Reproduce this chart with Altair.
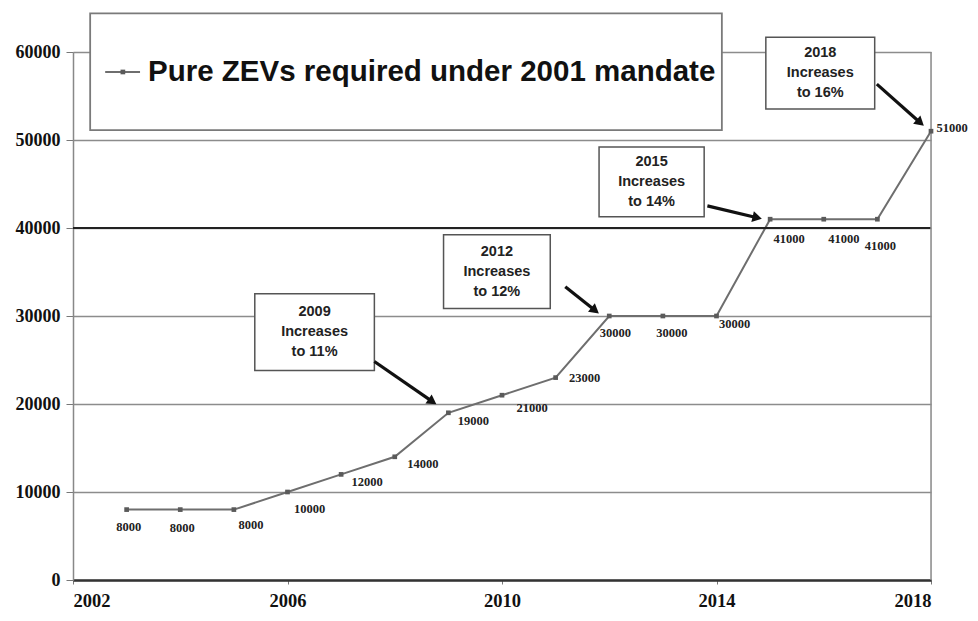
import math
import altair as alt
import pandas as pd

# ---------------- data ----------------
years = list(range(2003, 2019))
zevs = [8000, 8000, 8000, 10000, 12000, 14000, 19000, 21000, 23000,
        30000, 30000, 30000, 41000, 41000, 41000, 51000]
x_ticks = [2002, 2006, 2010, 2014, 2018]
y_ticks = [0, 10000, 20000, 30000, 40000, 50000, 60000]
legend_label = "Pure ZEVs required under 2001 mandate"

ann_text = ["2009\nIncreases\nto 11%", "2012\nIncreases\nto 12%",
            "2015\nIncreases\nto 14%", "2018\nIncreases\nto 16%"]
# annotation boxes (data units: x from, x to, y from, y to)
ann_box = [(2005.39, 2007.62, 23810, 32540),
           (2008.91, 2010.90, 30840, 39230),
           (2011.81, 2013.77, 41270, 49200),
           (2014.92, 2016.95, 53510, 61680)]
# arrows (data units: start x, start y, end x, end y)
ann_arrow = [(2007.62, 24830, 2008.78, 19950),
             (2011.18, 33330, 2011.81, 30270),
             (2013.83, 42520, 2014.85, 41040),
             (2016.99, 56350, 2017.87, 51590)]

# ---------------- layout ----------------
W, H = 858, 528
XMIN, XMAX, YMIN, YMAX = 2002, 2018, 0, 60000
px_x = W / (XMAX - XMIN)
px_y = H / (YMAX - YMIN)

# label pixel offsets per point (style)
lab_off = {2003: (2, 17), 2004: (2, 18), 2005: (17, 15), 2006: (22, 17),
           2007: (26, 8), 2008: (28, 7), 2009: (25, 8), 2010: (30, 13),
           2011: (29, 0), 2012: (6, 17), 2013: (9, 17), 2014: (18, 8),
           2015: (19, 20), 2016: (20, 20), 2017: (3, 27), 2018: (21, -3)}

df = pd.DataFrame({"year": years, "zev": zevs})
df["label"] = df["zev"].astype(str)
df["lx"] = [y + lab_off[y][0] / px_x for y in years]
df["ly"] = [v - lab_off[y][1] / px_y for y, v in zip(years, zevs)]

xs = alt.Scale(domain=[XMIN, XMAX], nice=False, zero=False)
ys = alt.Scale(domain=[YMIN, YMAX], nice=False)

serif = "Liberation Serif"
sans = "Liberation Sans"
gray = "#6e6e6e"

base = alt.Chart(df)

line = base.mark_line(color=gray, strokeWidth=2).encode(
    x=alt.X("year:Q", scale=xs,
            axis=alt.Axis(values=x_ticks, format="d", title=None, grid=False,
                          labelFont=serif, labelFontWeight="bold", labelFontSize=18.5,
                          labelColor="#111", labelPadding=7, tickSize=4,
                          tickColor="#777", domainColor="#333", domainWidth=2.5)),
    y=alt.Y("zev:Q", scale=ys,
            axis=alt.Axis(values=y_ticks, format="d", title=None, grid=True,
                          gridColor="#8c8c8c", gridWidth=1.4,
                          labelFont=serif, labelFontWeight="bold", labelFontSize=18,
                          labelColor="#111", labelPadding=6, tickSize=7,
                          tickColor="#777", domainColor="#888", domainWidth=1.5)),
)
pts = base.mark_point(shape="square", filled=True, size=22, color="#5a5a5a", opacity=1).encode(
    x=alt.X("year:Q", scale=xs), y=alt.Y("zev:Q", scale=ys))
labels = base.mark_text(font=serif, fontWeight="bold", fontSize=12.5, color="#222",
                        align="center", baseline="middle").encode(
    x=alt.X("lx:Q", scale=xs), y=alt.Y("ly:Q", scale=ys), text="label:N")

# dark gridline at 40000 and right border
frame_df = pd.DataFrame({"y": [40000]})
rule40 = alt.Chart(frame_df).mark_rule(color="#222", strokeWidth=2).encode(
    y=alt.Y("y:Q", scale=ys))
border_df = pd.DataFrame({"x": [XMAX], "y": [YMIN], "y2": [YMAX]})
border = alt.Chart(border_df).mark_rule(color="#8c8c8c", strokeWidth=1.5).encode(
    x=alt.X("x:Q", scale=xs), y=alt.Y("y:Q", scale=ys), y2="y2:Q")

# legend box (drawn manually)
leg_y = 57730
leg_box_df = pd.DataFrame({"x": [2002.32], "x2": [2014.10], "y": [51130], "y2": [64400]})
leg_box = alt.Chart(leg_box_df).mark_rect(fill="white", stroke="#7a7a7a", strokeWidth=1.8).encode(
    x=alt.X("x:Q", scale=xs), x2="x2:Q", y=alt.Y("y:Q", scale=ys), y2="y2:Q")
leg_line_df = pd.DataFrame({"x": [2002.60], "x2": [2003.25], "y": [leg_y]})
leg_line = alt.Chart(leg_line_df).mark_rule(color=gray, strokeWidth=2).encode(
    x=alt.X("x:Q", scale=xs), x2="x2:Q", y=alt.Y("y:Q", scale=ys))
leg_pt_df = pd.DataFrame({"x": [2002.93], "y": [leg_y]})
leg_pt = alt.Chart(leg_pt_df).mark_point(shape="square", filled=True, size=22, color="#5a5a5a", opacity=1).encode(
    x=alt.X("x:Q", scale=xs), y=alt.Y("y:Q", scale=ys))
leg_txt_df = pd.DataFrame({"x": [2003.40], "y": [leg_y], "t": [legend_label]})
leg_txt = alt.Chart(leg_txt_df).mark_text(font=sans, fontWeight="bold", fontSize=29.5,
                                          color="#111", align="left", baseline="middle").encode(
    x=alt.X("x:Q", scale=xs), y=alt.Y("y:Q", scale=ys), text="t:N")

# annotation boxes
box_df = pd.DataFrame({
    "x": [b[0] for b in ann_box], "x2": [b[1] for b in ann_box],
    "y": [b[2] for b in ann_box], "y2": [b[3] for b in ann_box],
    "cx": [(b[0] + b[1]) / 2 for b in ann_box],
    "cy": [(b[2] + b[3]) / 2 for b in ann_box],
    "t": ann_text,
})
boxes = alt.Chart(box_df).mark_rect(fill="white", stroke="#555", strokeWidth=1.5).encode(
    x=alt.X("x:Q", scale=xs), x2="x2:Q", y=alt.Y("y:Q", scale=ys), y2="y2:Q")
box_txt = alt.Chart(box_df).mark_text(font=sans, fontWeight="bold", fontSize=14.5,
                                      color="#222", align="center", baseline="middle",
                                      lineBreak="\n", lineHeight=20, dy=-20).encode(
    x=alt.X("cx:Q", scale=xs), y=alt.Y("cy:Q", scale=ys), text="t:N")

# arrows
arr_df = pd.DataFrame({
    "x": [a[0] for a in ann_arrow], "y": [a[1] for a in ann_arrow],
    "x2": [a[2] for a in ann_arrow], "y2": [a[3] for a in ann_arrow],
})
arr_df["ang"] = [
    (math.degrees(math.atan2((a[2] - a[0]) * px_x, (a[3] - a[1]) * px_y)) + 360) % 360
    for a in ann_arrow
]
arr_df["hx"] = [a[2] - 5 * math.sin(math.radians(g)) / px_x for a, g in zip(ann_arrow, arr_df["ang"])]
arr_df["hy"] = [a[3] - 5 * math.cos(math.radians(g)) / px_y for a, g in zip(ann_arrow, arr_df["ang"])]
arrows = alt.Chart(arr_df).mark_rule(color="#111", strokeWidth=3.2).encode(
    x=alt.X("x:Q", scale=xs), y=alt.Y("y:Q", scale=ys), x2="hx:Q", y2="hy:Q")
heads = alt.Chart(arr_df).mark_point(shape="triangle-up", filled=True, size=120,
                                     color="#111", opacity=1).encode(
    x=alt.X("hx:Q", scale=xs), y=alt.Y("hy:Q", scale=ys),
    angle=alt.Angle("ang:Q", scale=None))

chart = alt.layer(
    line, rule40, border, leg_box, leg_line, leg_pt, leg_txt,
    boxes, box_txt, arrows, heads, pts, labels
).properties(
    width=W, height=H,
    autosize=alt.AutoSizeParams(type="none"),
    padding={"left": 65, "top": 44, "right": 39, "bottom": 32},
).configure_view(stroke=None).configure(background="white")

chart.save("out.html", embed_options={"renderer": "svg", "actions": False})
